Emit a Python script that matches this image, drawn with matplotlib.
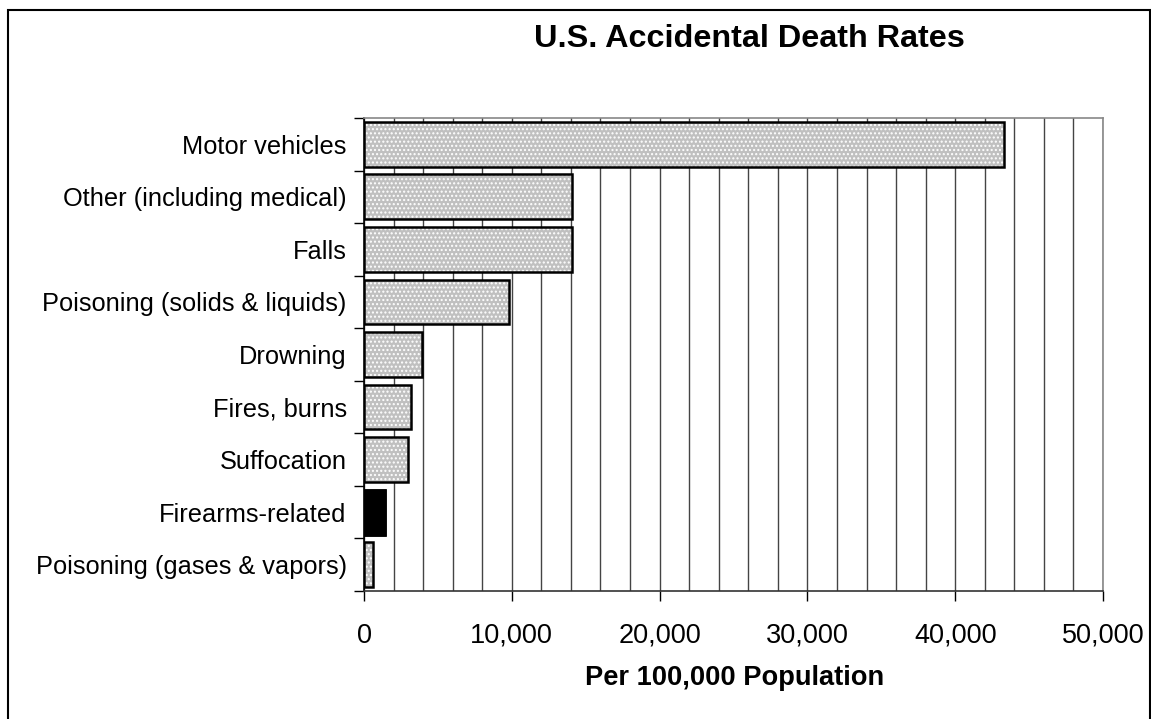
import matplotlib
matplotlib.use('Agg')
import matplotlib.pyplot as plt
from matplotlib.patches import Rectangle
from matplotlib.ticker import MultipleLocator, FuncFormatter

plt.rcParams['font.family'] = ['Liberation Sans', 'DejaVu Sans']

# 데이터 (위에서 아래 순서)
causes = ['Motor vehicles', 'Other (including medical)', 'Falls',
          'Poisoning (solids & liquids)', 'Drowning', 'Fires, burns',
          'Suffocation', 'Firearms-related', 'Poisoning (gases & vapors)']
deaths = [43300, 14100, 14100, 9800, 3900, 3200, 3000, 1400, 600]
colors = ['#c0c0c0'] * 9
colors[7] = 'black'

W, H = 1151, 719
fig = plt.figure(figsize=(W / 100, H / 100), dpi=100)
ax = fig.add_axes([364 / W, 1 - 591 / H, (1103 - 364) / W, (591 - 118) / H])

ypos = list(range(len(causes)))
# 점무늬 채우기 + 검은 테두리
ax.barh(ypos, deaths, height=0.85, color=colors, edgecolor='white',
        linewidth=0, hatch='....', zorder=3)
ax.barh(ypos, deaths, height=0.85, fill=False, edgecolor='black',
        linewidth=1.8, zorder=4)
# 검은 막대는 무늬 없이
ax.barh([7], [deaths[7]], height=0.85, color='black', edgecolor='black',
        linewidth=1.8, zorder=5)

ax.set_xlim(0, 50000)
ax.set_ylim(len(causes) - 0.5, -0.5)

ax.xaxis.set_major_locator(MultipleLocator(10000))
ax.xaxis.set_minor_locator(MultipleLocator(2000))
ax.xaxis.set_major_formatter(FuncFormatter(lambda v, p: f'{int(v):,}'))
ax.grid(True, axis='x', which='both', color='#444444', linewidth=1, zorder=1)
ax.set_axisbelow(True)

ax.set_yticks([i - 0.5 for i in range(len(causes) + 1)])
ax.set_yticklabels([])
ax.set_yticks(ypos, minor=True)
ax.set_yticklabels(causes, minor=True)

ax.tick_params(axis='y', which='major', length=7, width=1, color='black')
ax.tick_params(axis='y', which='minor', length=0, pad=12.5, labelsize=18.3)
ax.tick_params(axis='x', which='major', length=7, width=1, pad=16,
               labelsize=19.5)
ax.tick_params(axis='x', which='minor', length=0)

ax.spines['top'].set_color('#888888')
ax.spines['right'].set_color('#888888')
ax.spines['left'].set_color('black')
ax.spines['bottom'].set_color('#333333')
for s in ax.spines.values():
    s.set_linewidth(1.2)

fig.text(749 / W, 1 - 39 / H, 'U.S. Accidental Death Rates', ha='center',
         va='center', fontsize=23.3, fontweight='bold')
fig.text(735 / W, 1 - 678 / H, 'Per 100,000 Population', ha='center',
         va='center', fontsize=19.6, fontweight='bold')

# 바깥 테두리
fig.patches.append(Rectangle((8 / W, -0.02), (1150 - 8) / W, 1.02 - 10 / H,
                             transform=fig.transFigure, fill=False,
                             edgecolor='black', linewidth=1.5))

fig.savefig('out.png', dpi=100)
